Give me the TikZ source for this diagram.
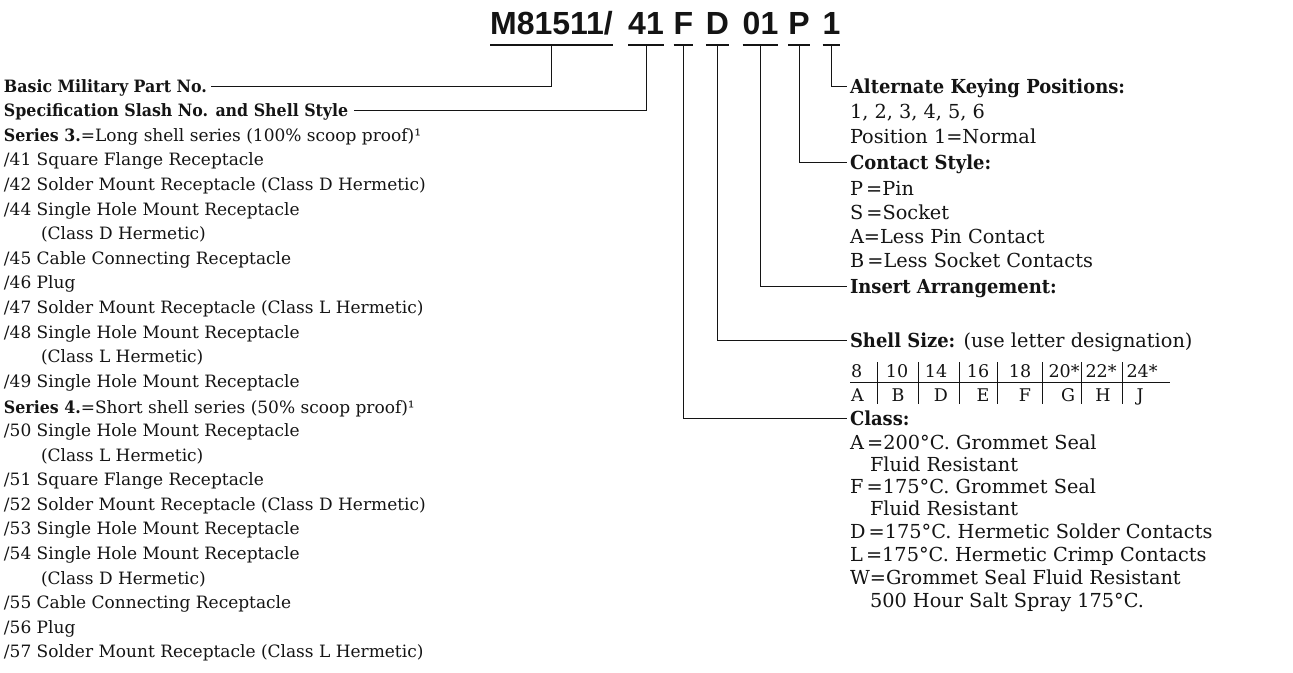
\documentclass[tikz,border=0pt]{standalone}
\usepackage{fontspec}
\setmainfont{DejaVu Serif}[BoldFeatures={FakeStretch=0.93}]
\newfontfamily\hdrfont{Liberation Sans}
\definecolor{ink}{HTML}{141414}
\begin{document}
\begin{tikzpicture}[x=1pt,y=-1pt,
  every node/.style={inner sep=0pt, outer sep=0pt},
  lt/.style={anchor=base west, font=\fontsize{17}{20}\selectfont, text=ink},
  rt/.style={anchor=base west, font=\fontsize{19.3}{22}\selectfont, text=ink},
  cell/.style={anchor=base, font=\fontsize{17.5}{20}\selectfont, text=ink},
  hd/.style={anchor=base, font=\hdrfont\bfseries\fontsize{32}{36}\selectfont, text=ink},
  conn/.style={draw=ink, line width=1pt},
  uline/.style={draw=ink, line width=2pt},
  tline/.style={draw=ink, line width=0.9pt}]
\useasboundingbox (0,0) rectangle (1293,672);
\fill[white] (0,0) rectangle (1293,672);

% ---------- header ----------
\node[hd] (hM)  at (551.5,34) {M81511/};
\node[hd] (h41) at (646,34) {41};
\node[hd] (hF)  at (683.5,34) {F};
\node[hd] (hD)  at (717.5,34) {D};
\node[hd] (h01) at (760.5,34) {01};
\node[hd] (hP)  at (799,34) {P};
\node[hd] (h1)  at (831.5,34) {1};
\foreach \n in {hM,h41,hF,hD,h01,hP,h1}{
  \draw[uline] ([yshift=-11pt]\n.base west) -- ([yshift=-11pt]\n.base east);
  \coordinate (s\n) at ([yshift=-11pt]\n.base);
}

% ---------- left column ----------
\node[lt] (L0)  at (4,92)    {\textbf{Basic Military Part No.}};
\node[lt] (L1)  at (4,116.6) {\textbf{Specification Slash No. and Shell Style}};
\node[lt] (L2)  at (4,141.2) {\textbf{Series 3.}=Long shell series (100\% scoop proof)¹};
\node[lt] (L3)  at (4,165.8) {/41 Square Flange Receptacle};
\node[lt] (L4)  at (4,190.4) {/42 Solder Mount Receptacle (Class D Hermetic)};
\node[lt] (L5)  at (4,215)   {/44 Single Hole Mount Receptacle};
\node[lt] (L6)  at (41,239.6) {(Class D Hermetic)};
\node[lt] (L7)  at (4,264.2) {/45 Cable Connecting Receptacle};
\node[lt] (L8)  at (4,288.8) {/46 Plug};
\node[lt] (L9)  at (4,313.4) {/47 Solder Mount Receptacle (Class L Hermetic)};
\node[lt] (L10) at (4,338)   {/48 Single Hole Mount Receptacle};
\node[lt] (L11) at (41,362.6) {(Class L Hermetic)};
\node[lt] (L12) at (4,387.2) {/49 Single Hole Mount Receptacle};
\node[lt] (L13) at (4,413)   {\textbf{Series 4.}=Short shell series (50\% scoop proof)¹};
\node[lt] (L14) at (4,436.4) {/50 Single Hole Mount Receptacle};
\node[lt] (L15) at (41,461)  {(Class L Hermetic)};
\node[lt] (L16) at (4,485.6) {/51 Square Flange Receptacle};
\node[lt] (L17) at (4,510.2) {/52 Solder Mount Receptacle (Class D Hermetic)};
\node[lt] (L18) at (4,534.8) {/53 Single Hole Mount Receptacle};
\node[lt] (L19) at (4,559.4) {/54 Single Hole Mount Receptacle};
\node[lt] (L20) at (41,584)  {(Class D Hermetic)};
\node[lt] (L21) at (4,608.6) {/55 Cable Connecting Receptacle};
\node[lt] (L22) at (4,633.2) {/56 Plug};
\node[lt] (L23) at (4,657.8) {/57 Solder Mount Receptacle (Class L Hermetic)};

% ---------- right column ----------
\node[rt] (alt)  at (850,93)  {\textbf{Alternate Keying Positions:}};
\node[rt] (R1)   at (850,118) {1, 2, 3, 4, 5, 6};
\node[rt] (R2)   at (850,143) {Position 1=Normal};
\node[rt] (cst)  at (850,169) {\textbf{Contact Style:}};
\node[rt] (R4)   at (850,195) {P\,=Pin};
\node[rt] (R5)   at (850,219) {S\,=Socket};
\node[rt] (R6)   at (850,243) {A=Less Pin Contact};
\node[rt] (R7)   at (850,267) {B\,=Less Socket Contacts};
\node[rt] (ins)  at (850,293) {\textbf{Insert Arrangement:}};
\node[rt] (shs)  at (850,347) {\textbf{Shell Size:} (use letter designation)};
\node[rt] (cls)  at (850,425) {\textbf{Class:}};
\node[rt] (C1)   at (850,449) {A\,=200°C. Grommet Seal};
\node[rt] (C2)   at (870,471) {Fluid Resistant};
\node[rt] (C3)   at (850,493) {F\,=175°C. Grommet Seal};
\node[rt] (C4)   at (870,515) {Fluid Resistant};
\node[rt] (C5)   at (850,538) {D\,=175°C. Hermetic Solder Contacts};
\node[rt] (C6)   at (850,561) {L\,=175°C. Hermetic Crimp Contacts};
\node[rt] (C7)   at (850,584) {W=Grommet Seal Fluid Resistant};
\node[rt] (C8)   at (870,607) {500 Hour Salt Spray 175°C.};

% ---------- shell size table ----------
\node[cell,anchor=base west] (t8) at (851,377) {8};
\node[cell] (t10) at (897,377)  {10};
\node[cell] (t14) at (936,377)  {14};
\node[cell] (t16) at (978,377)  {16};
\node[cell] (t18) at (1020,377) {18};
\node[cell] (t20) at (1064,377) {20*};
\node[cell] (t22) at (1101,377) {22*};
\node[cell] (t24) at (1142,377) {24*};
\node[cell,anchor=base west] (tA) at (851,401) {A};
\node[cell] (tB)  at (898,401)  {B};
\node[cell] (tD)  at (941,401)  {D};
\node[cell] (tE)  at (983,401)  {E};
\node[cell] (tF)  at (1025,401) {F};
\node[cell] (tG)  at (1068,401) {G};
\node[cell] (tH)  at (1103,401) {H};
\node[cell] (tJ)  at (1140,401) {J};
\coordinate (tl) at (850,382.5);
\coordinate (tr) at (1170,382.5);
\draw[tline] (tl) -- (tr);
\foreach \x in {877.5,918,959,997.5,1042.5,1081.5,1122}{
  \draw[tline] (\x,362) -- (\x,404);
}

% ---------- connectors ----------
\draw[conn] (shM)  |- ([xshift=4pt,yshift=6pt]L0.base east);
\draw[conn] (sh41) |- ([xshift=6pt,yshift=6pt]L1.base east);
\draw[conn] (sh1)  |- ([xshift=-3pt,yshift=6.5pt]alt.base west);
\draw[conn] (shP)  |- ([xshift=-3pt,yshift=6.5pt]cst.base west);
\draw[conn] (sh01) |- ([xshift=-3pt,yshift=6.5pt]ins.base west);
\draw[conn] (shD)  |- ([xshift=-3pt,yshift=6.5pt]shs.base west);
\draw[conn] (shF)  |- ([xshift=-3pt,yshift=6.5pt]cls.base west);
\end{tikzpicture}
\end{document}
